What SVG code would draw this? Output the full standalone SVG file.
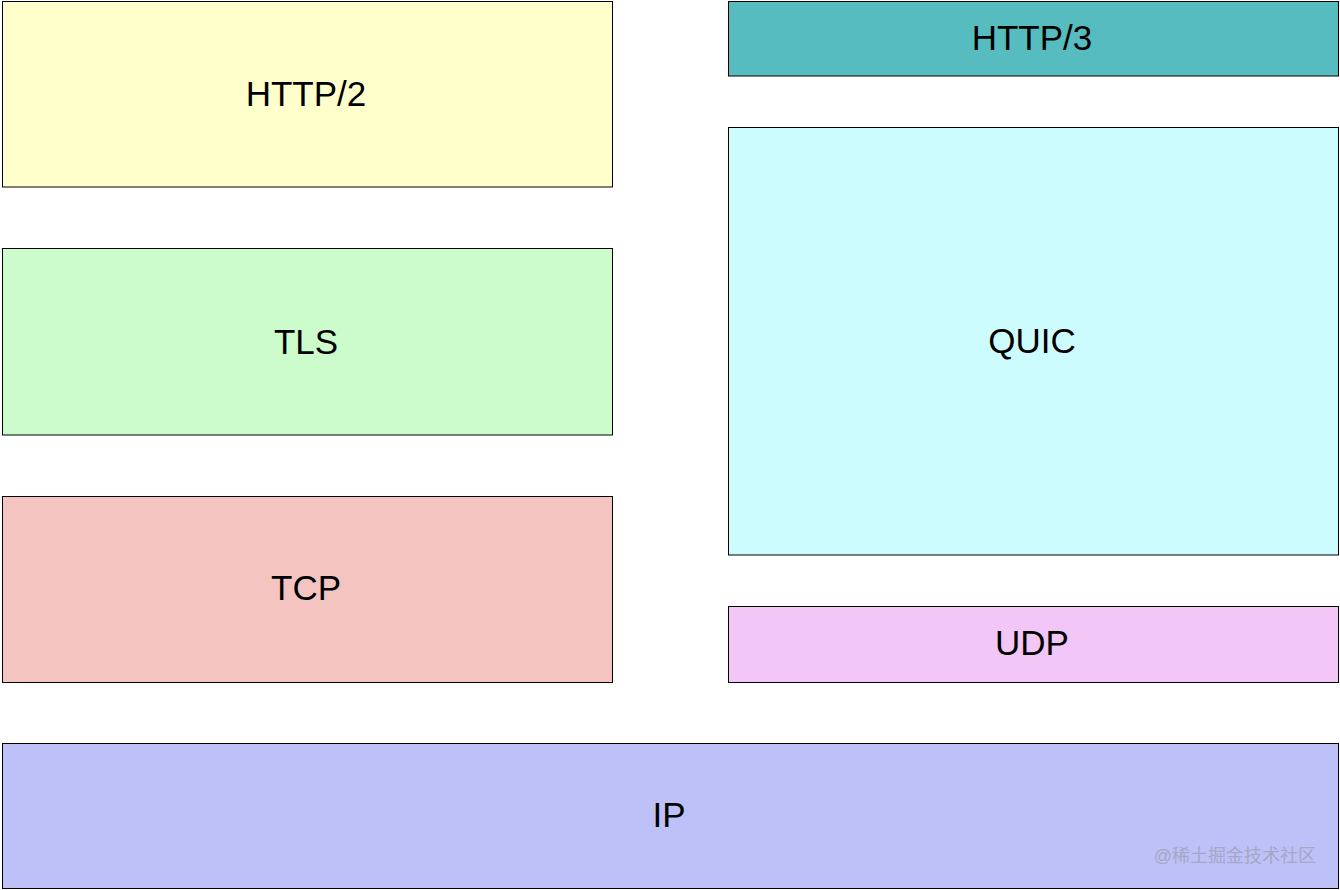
<svg xmlns="http://www.w3.org/2000/svg" width="1340" height="890" viewBox="0 0 1340 890">
<style>
.box{stroke:#000;stroke-width:1}
.lbl{font-family:"Liberation Sans",Arial,sans-serif;font-size:35px;fill:#000;text-anchor:middle;dominant-baseline:central}
.wm{font-family:"Liberation Sans","Noto Sans CJK SC",sans-serif;font-size:18px;fill:#a4a7c6;text-anchor:end}
</style>
<rect width="1340" height="890" fill="#fff"/>
<g id="http2"><rect class="box" x="2.5" y="1.5" width="610" height="185.5" fill="#ffffcc"/><text class="lbl" x="306" y="93">HTTP/2</text></g>
<g id="tls"><rect class="box" x="2.5" y="248.5" width="610" height="186.5" fill="#ccfccb"/><text class="lbl" x="306" y="341">TLS</text></g>
<g id="tcp"><rect class="box" x="2.5" y="496.5" width="610" height="186" fill="#f4c4c1"/><text class="lbl" x="306" y="587">TCP</text></g>
<g id="http3"><rect class="box" x="728.5" y="1.5" width="610" height="74.5" fill="#56bcc0"/><text class="lbl" x="1032" y="37">HTTP/3</text></g>
<g id="quic"><rect class="box" x="728.5" y="127.5" width="610" height="427.5" fill="#ccfcfd"/><text class="lbl" x="1032" y="340">QUIC</text></g>
<g id="udp"><rect class="box" x="728.5" y="606.5" width="610" height="76" fill="#f3c6f8"/><text class="lbl" x="1032" y="642">UDP</text></g>
<g id="ip"><rect class="box" x="2.5" y="743.5" width="1336" height="145" fill="#bec1f8"/><text class="lbl" x="669" y="814">IP</text></g>
<g id="connectors"></g>
<text class="wm" x="1316" y="862">@稀土掘金技术社区</text>
</svg>
